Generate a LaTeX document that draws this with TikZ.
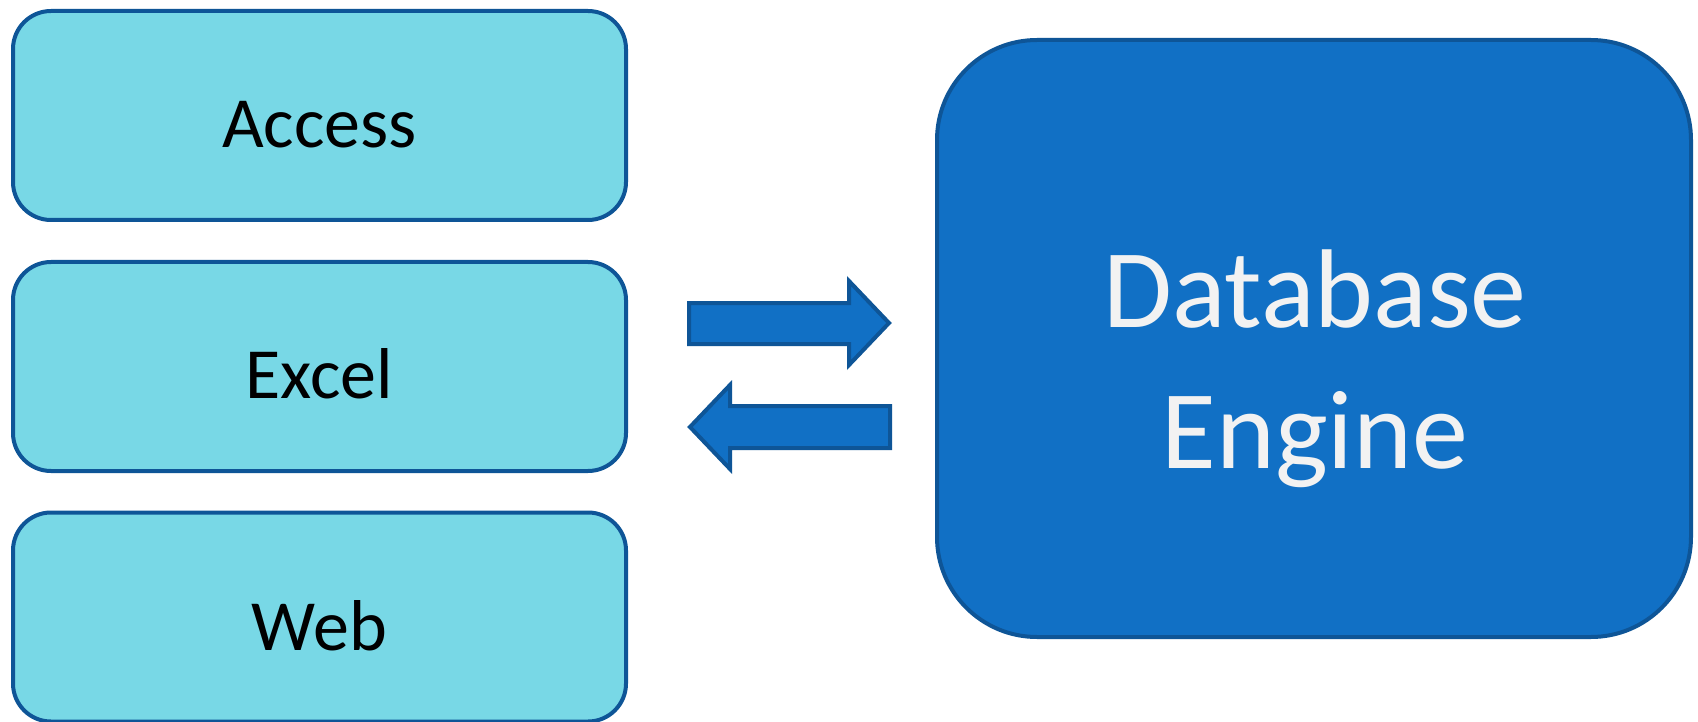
\documentclass[tikz,border=0pt]{standalone}
\usepackage{fontspec}
\setmainfont{Carlito}
\definecolor{lightfill}{HTML}{78D8E6}
\definecolor{edgeblue}{HTML}{0E5597}
\definecolor{darkfill}{HTML}{1170C5}
\definecolor{paletext}{HTML}{F2F2F2}
\tikzset{
  appbox/.style={draw=edgeblue, line width=4pt, fill=lightfill, rounded corners=38pt,
    minimum width=613pt, minimum height=209pt, inner sep=0pt},
  enginebox/.style={draw=edgeblue, line width=4pt, fill=darkfill, rounded corners=100pt,
    minimum width=754pt, minimum height=597pt, inner sep=0pt},
  applabel/.style={anchor=base, inner sep=0pt, font=\fontsize{72}{86}\selectfont, text=black},
  enginelabel/.style={anchor=base, inner sep=0pt, align=center,
    font=\fontsize{112}{141}\selectfont, text=paletext},
  blockarrow/.style={draw=edgeblue, line width=4pt, fill=darkfill, line join=miter}
}
\begin{document}
\begin{tikzpicture}[x=1pt,y=-1pt]
\useasboundingbox (0,0) rectangle (1698,722);
\fill[white] (0,0) rectangle (1698,722);
% application boxes
\node[appbox] (access) at (319.5,115.5) {};
\node[appbox] (excel) at (319.5,366.5) {};
\node[appbox] (web) at (319.5,617) {};
\node[applabel] (accesst) at (319.5,148) {Access};
\node[applabel] (excelt) at (319.5,398.5) {Excel};
\node[applabel] (webt) at (319.5,650) {Web};
% engine box
\node[enginebox] (engine) at (1314,338.5) {};
\node[enginelabel] (enginet) at (1315,468) {Database\\Engine};
% block arrows
\draw[blockarrow] (689,303) -- (849,303) -- (849,281) -- (889,323) -- (849,365) -- (849,344) -- (689,344) -- cycle;
\draw[blockarrow] (890,406) -- (730,406) -- (730,385) -- (690,427) -- (730,469) -- (730,448) -- (890,448) -- cycle;
\end{tikzpicture}
\end{document}
